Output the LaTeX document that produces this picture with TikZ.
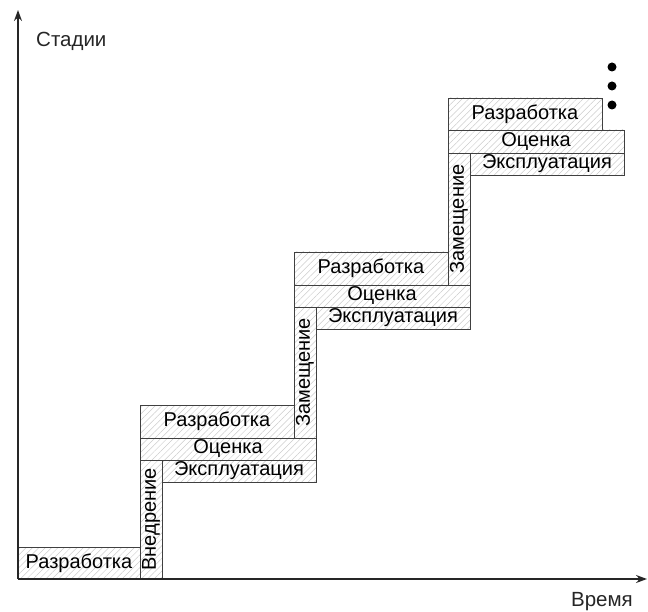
\documentclass[tikz,border=0pt]{standalone}
\usepackage{fontspec}
\setmainfont{Liberation Sans}
\usetikzlibrary{patterns.meta,arrows.meta}
\begin{document}
\begin{tikzpicture}[x=1pt,y=-1pt,
  box/.style={draw=black!75, line width=0.9pt,
    pattern={Lines[angle=45,distance=4.5pt,line width=0.5pt]}, pattern color=black!20,
    inner sep=0pt, outer sep=0pt, anchor=north west,
    font=\fontsize{20}{22}\selectfont},
  vbox/.style={box, anchor=center, rotate=90},
  axis/.style={line width=1.5pt, black!85, -{Stealth[length=11pt,width=8pt]}},
  lbl/.style={font=\fontsize{20.5}{22}\selectfont, text=black!85, inner sep=0pt},
  dot/.style={fill=black, circle, inner sep=0pt, minimum size=9pt}]
\useasboundingbox (0,0) rectangle (648,612);
% axes
\coordinate (O) at (18,579);
\coordinate (Ytop) at (18,10);
\coordinate (Xend) at (647,579);
% boxes
\node[box, minimum width=122pt, minimum height=32pt] (r0) at (18,547) {Разработка};
\node[vbox, minimum width=119pt, minimum height=22pt] (v0) at (151,519.5) {Внедрение};
% block 1
\node[box, minimum width=154pt, minimum height=33pt] (r1) at (140,405) {Разработка};
\node[box, minimum width=176pt, minimum height=22pt] (o1) at (140,438) {Оценка};
\node[box, minimum width=154pt, minimum height=22pt] (e1) at (162,460) {Эксплуатация};
\node[vbox, minimum width=131pt, minimum height=22pt] (z1) at (305,372.5) {Замещение};
% block 2
\node[box, minimum width=154pt, minimum height=33pt] (r2) at (294,252) {Разработка};
\node[box, minimum width=176pt, minimum height=22pt] (o2) at (294,285) {Оценка};
\node[box, minimum width=154pt, minimum height=22pt] (e2) at (316,307) {Эксплуатация};
\node[vbox, minimum width=132pt, minimum height=22pt] (z2) at (459,219) {Замещение};
% block 3
\node[box, minimum width=154pt, minimum height=32pt] (r3) at (448,98) {Разработка};
\node[box, minimum width=176pt, minimum height=23pt] (o3) at (448,130) {Оценка};
\node[box, minimum width=154pt, minimum height=22pt] (e3) at (470,153) {Эксплуатация};
% dots
\node[dot] (d1) at (612,67) {};
\node[dot] (d2) at (612,86) {};
\node[dot] (d3) at (612,105) {};
% axes drawn on top
\draw[axis] (O) -- (Ytop);
\draw[axis] (O) -- (Xend);
\node[lbl, anchor=west] (ylab) at (36,41) {Стадии};
\node[lbl] (xlab) at (602,602) {Время};
\end{tikzpicture}
\end{document}
